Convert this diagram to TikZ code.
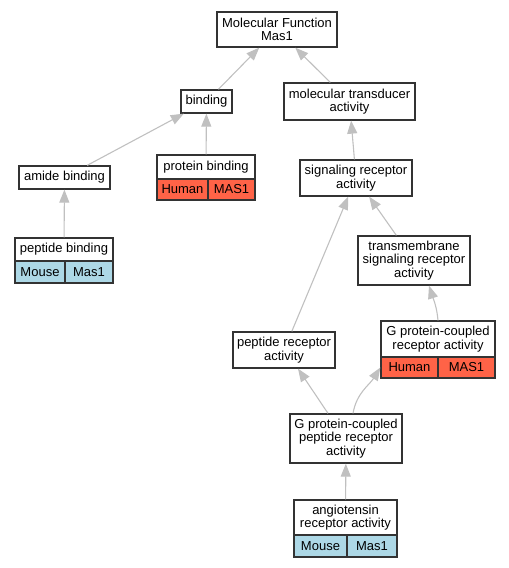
\documentclass[tikz,border=0pt]{standalone}
\usepackage{fontspec}
\setmainfont{Liberation Sans}
\usetikzlibrary{arrows.meta,calc}
\definecolor{edgegray}{HTML}{C0C0C0}
\definecolor{boxline}{HTML}{333333}
\definecolor{humanred}{HTML}{FF6347}
\definecolor{mouseblue}{HTML}{ADD8E6}
\begin{document}
\begin{tikzpicture}[x=1pt,y=-1pt,
  box/.style={draw=boxline,line width=1.3pt,fill=white,inner sep=0pt,align=center,
    font=\fontsize{13}{13.4}\selectfont},
  hum/.style={box,fill=humanred},
  mou/.style={box,fill=mouseblue},
  edge/.style={draw=edgegray,line width=1.1pt,-{Triangle[length=13pt,width=10pt]}}]
\useasboundingbox (0,0) rectangle (509,568);
% nodes
\node[box,minimum width=120pt,minimum height=35pt] (mf) at (277,29.5) {Molecular Function\\Mas1};
\node[box,minimum width=51pt,minimum height=23pt] (bind) at (206.5,101.5) {binding};
\node[box,minimum width=131pt,minimum height=37pt] (mt) at (349.5,101.5) {molecular transducer\\activity};
\node[box,minimum width=91pt,minimum height=23pt] (amide) at (64.5,177.5) {amide binding};
\node[box,minimum width=98pt,minimum height=24pt] (pbt) at (206,167) {protein binding};
\node[hum,minimum width=51pt,minimum height=21pt] (pbl) at (182.5,189.5) {Human};
\node[hum,minimum width=47pt,minimum height=21pt] (pbr) at (231.5,189.5) {MAS1};
\node[box,minimum width=112pt,minimum height=36pt] (sr) at (356,178) {signaling receptor\\activity};
\node[box,minimum width=98pt,minimum height=23pt] (pept) at (64,249.5) {peptide binding};
\node[mou,minimum width=50pt,minimum height=22pt] (pepl) at (40,272) {Mouse};
\node[mou,minimum width=48pt,minimum height=22pt] (pepr) at (89,272) {Mas1};
\node[box,minimum width=112pt,minimum height=49pt] (tm) at (414,260.5) {transmembrane\\signaling receptor\\activity};
\node[box,minimum width=102pt,minimum height=36pt] (pr) at (284,350) {peptide receptor\\activity};
\node[box,minimum width=114pt,minimum height=36pt] (gpcrt) at (438,339) {G protein-coupled\\receptor activity};
\node[hum,minimum width=57pt,minimum height=21pt] (gpcrl) at (409.5,367.5) {Human};
\node[hum,minimum width=57pt,minimum height=21pt] (gpcrr) at (466.5,367.5) {MAS1};
\node[box,minimum width=112pt,minimum height=49pt] (gpp) at (346,438.5) {G protein-coupled\\peptide receptor\\activity};
\node[box,minimum width=103pt,minimum height=35pt] (angt) at (345.5,517.5) {angiotensin\\receptor activity};
\node[mou,minimum width=53pt,minimum height=22pt] (angl) at (320.5,546) {Mouse};
\node[mou,minimum width=50pt,minimum height=22pt] (angr) at (372,546) {Mas1};
% edges
\draw[edge] (bind) -- (mf);
\draw[edge] (mt) -- (mf);
\draw[edge] (amide) -- (bind);
\draw[edge] (pbt) -- (bind);
\draw[edge] (sr) -- (mt);
\draw[edge] (pept) -- (amide);
\draw[edge] (pr) -- (sr);
\draw[edge] (tm) -- (sr);
\draw[edge] (gpcrt.north) to[out=95,in=-72] ($(tm.south)+(15,0)$);
\draw[edge] ($(gpp.north)+(-18,0)$) -- ($(pr.south)+(14,0)$);
\draw[edge] ($(gpp.north)+(7,0)$) to[out=80,in=-122] (gpcrl.west);
\draw[edge] (angt) -- (gpp);
\end{tikzpicture}
\end{document}
